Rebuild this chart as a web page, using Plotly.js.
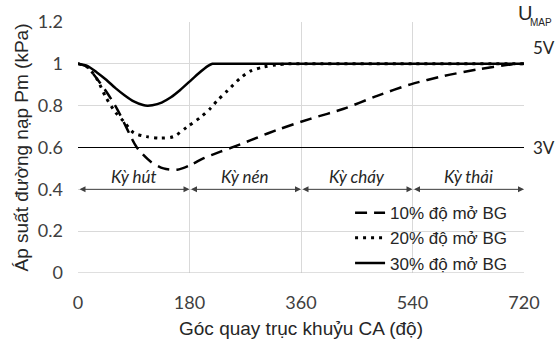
<!DOCTYPE html>
<html>
<head>
<meta charset="utf-8">
<script src="https://cdn.plot.ly/plotly-3.0.1.min.js"></script>
<style>html,body{margin:0;padding:0;background:#fff;}#chart{width:556px;height:340px;}</style>
</head>
<body>
<div id="chart"></div>
<script>
// Data
var seriesNames = ["10% độ mở BG", "20% độ mở BG", "30% độ mở BG"];

var x10 = [0, 15, 25, 45, 63, 79, 95, 117, 138, 160, 182, 203, 230, 252, 279, 306, 327, 375, 429, 483, 537, 591, 645, 699, 720];
var y10 = [1.0, 0.985, 0.95, 0.87, 0.785, 0.69, 0.6, 0.533, 0.50, 0.494, 0.517, 0.549, 0.58, 0.604, 0.635, 0.667, 0.69, 0.737, 0.785, 0.847, 0.902, 0.942, 0.973, 0.997, 1.0];

var x20 = [0, 15, 30, 45, 60, 75, 90, 111, 133, 154, 176, 198, 214, 225, 241, 263, 279, 300, 320, 340, 360, 540, 720];
var y20 = [1.0, 0.985, 0.93, 0.84, 0.77, 0.72, 0.67, 0.652, 0.645, 0.652, 0.698, 0.745, 0.788, 0.825, 0.871, 0.934, 0.966, 0.985, 0.995, 1.0, 1.0, 1.0, 1.0];

var x30 = [0, 15, 30, 45, 60, 75, 90, 105, 112, 120, 135, 150, 165, 180, 195, 210, 217, 240, 360, 540, 720];
var y30 = [1.0, 0.99, 0.96, 0.925, 0.885, 0.85, 0.82, 0.803, 0.80, 0.802, 0.815, 0.84, 0.875, 0.915, 0.955, 0.99, 1.0, 1.0, 1.0, 1.0, 1.0];

var xTicks = [0, 180, 360, 540, 720];
var yTicks = [0, 0.2, 0.4, 0.6, 0.8, 1.0, 1.2];
var yTickText = ["0", "0.2", "0.4", "0.6", "0.8", "1", "1.2"];

var strokeBounds = [0, 180, 360, 540, 720];
var strokeNames = ["Kỳ hút", "Kỳ nén", "Kỳ cháy", "Kỳ thải"];
var strokeLevel = 0.4;
var refLevel = 0.6;   // 3V
var topLevel = 1.0;   // 5V

var traces = [
  {x: x10, y: y10, name: seriesNames[0], mode: "lines", line: {color: "#000", width: 2.5, dash: "12px,7px", shape: "spline", smoothing: 0.8}},
  {x: x20, y: y20, name: seriesNames[1], mode: "lines", line: {color: "#000", width: 3, dash: "3px,5px", shape: "spline", smoothing: 0.8}},
  {x: x30, y: y30, name: seriesNames[2], mode: "lines", line: {color: "#000", width: 2.5, shape: "spline", smoothing: 0.6}}
];

var annotations = [];
for (var i = 0; i < strokeNames.length; i++) {
  annotations.push({
    x: strokeBounds[i + 1], y: strokeLevel, ax: strokeBounds[i], ay: strokeLevel,
    xref: "x", yref: "y", axref: "x", ayref: "y",
    text: "", showarrow: true, arrowside: "end+start", arrowhead: 2, arrowsize: 1.2, arrowwidth: 1, arrowcolor: "#404040"
  });
  annotations.push({
    x: (strokeBounds[i] + strokeBounds[i + 1]) / 2, y: strokeLevel, xref: "x", yref: "y",
    yanchor: "bottom", yshift: 0, showarrow: false, text: "<i>" + strokeNames[i] + "</i>",
    font: {family: "Lato, 'Open Sans', sans-serif", size: 17, color: "#262626"}
  });
}
annotations.push({x: 1.0, xref: "paper", xanchor: "left", xshift: -8, y: 1.0, yref: "paper", yanchor: "bottom", yshift: -4, showarrow: false,
  text: "U", font: {family: "'Liberation Sans', Arial, sans-serif", size: 20, color: "#262626"}});
annotations.push({x: 1.0, xref: "paper", xanchor: "left", xshift: 4, y: 1.0, yref: "paper", yanchor: "middle", yshift: 0, showarrow: false,
  text: "MAP", font: {family: "'Liberation Sans', Arial, sans-serif", size: 10, color: "#262626"}});
annotations.push({x: 1.0, xref: "paper", xanchor: "left", xshift: 7, y: topLevel, yref: "y", yanchor: "bottom", yshift: 4, showarrow: false,
  text: "5V", font: {family: "Lato, sans-serif", size: 17, color: "#262626"}});
annotations.push({x: 1.0, xref: "paper", xanchor: "left", xshift: 7, y: refLevel, yref: "y", yanchor: "middle", showarrow: false,
  text: "3V", font: {family: "Lato, sans-serif", size: 17, color: "#262626"}});

var layout = {
  width: 556, height: 340,
  margin: {l: 78, r: 32, t: 22, b: 67},
  paper_bgcolor: "#fff", plot_bgcolor: "#fff",
  showlegend: true,
  legend: {x: 0.61, y: 0.31, xanchor: "left", yanchor: "top", bgcolor: "rgba(0,0,0,0)",
    font: {family: "'Liberation Sans', Arial, sans-serif", size: 17, color: "#262626"}, tracegroupgap: 0},
  xaxis: {range: [0, 720], tickvals: xTicks, ticktext: xTicks.map(String), showgrid: true, gridcolor: "#d9d9d9", gridwidth: 1,
    zeroline: false, showline: false, ticks: "", ticklabelstandoff: 17,
    tickfont: {family: "Lato, sans-serif", size: 18, color: "#404040"},
    title: {text: "Góc quay trục khuỷu CA (độ)", standoff: 9, font: {family: "'Liberation Sans', Arial, sans-serif", size: 19, color: "#262626"}}},
  yaxis: {range: [0, 1.2], tickvals: yTicks, ticktext: yTickText, showgrid: true, gridcolor: "#d9d9d9", gridwidth: 1,
    zeroline: false, showline: false, ticks: "", ticklabelstandoff: 14,
    tickfont: {family: "Lato, sans-serif", size: 18, color: "#404040"},
    title: {text: "Áp suất đường nạp Pm (kPa)", standoff: 4, font: {family: "'Liberation Sans', Arial, sans-serif", size: 19, color: "#262626"}}},
  shapes: [
    {type: "line", xref: "x", yref: "y", x0: 0, x1: 720, y0: refLevel, y1: refLevel, line: {color: "#000", width: 1}},
    {type: "line", xref: "x", yref: "y", x0: 0, x1: 720, y0: 0, y1: 0, line: {color: "#bfbfbf", width: 1}}
  ],
  annotations: annotations
};

Plotly.newPlot("chart", traces, layout, {displayModeBar: false, staticPlot: true});
</script>
</body>
</html>
